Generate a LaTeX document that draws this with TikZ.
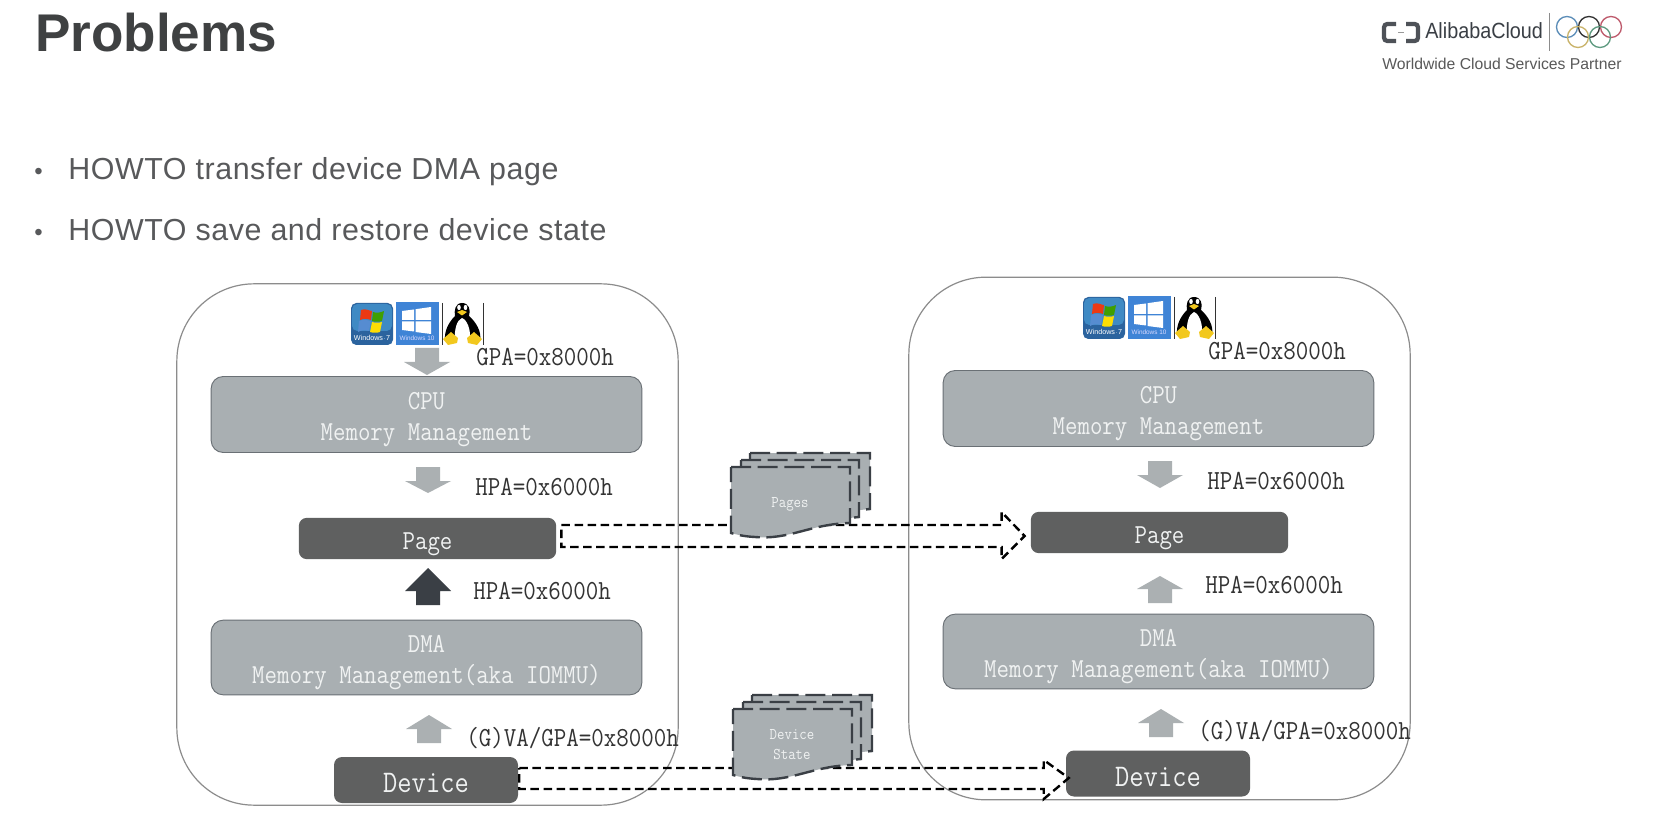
\documentclass[tikz,border=0pt]{standalone}
\usepackage{fontspec}
\setmainfont{Liberation Sans}
\setmonofont[FakeStretch=0.88]{Latin Modern Mono}
\newfontfamily\bulfont[LetterSpace=1.9]{Liberation Sans}
\usetikzlibrary{calc}
\definecolor{bxgray}{HTML}{A9AFB2}
\definecolor{bxedge}{HTML}{6A7075}
\definecolor{pgdark}{HTML}{5F6060}
\definecolor{bigedge}{HTML}{8C8C8C}
\definecolor{arrgray}{HTML}{ABB0B2}
\definecolor{arrdark}{HTML}{3A3F45}
\definecolor{lbl}{HTML}{333333}
\definecolor{wtxt}{HTML}{F0F2F2}
\definecolor{ttl}{HTML}{3F4142}
\definecolor{bul}{HTML}{58595B}
\definecolor{ringb}{HTML}{5B8DB8}
\definecolor{ringk}{HTML}{333333}
\definecolor{ringr}{HTML}{BE5A6C}
\definecolor{ringy}{HTML}{C9B36A}
\definecolor{ringg}{HTML}{5E9A80}
\definecolor{wsev}{HTML}{2B639E}
\definecolor{wsevtop}{HTML}{3F8AC4}
\definecolor{wten}{HTML}{3F84D6}
\definecolor{tuxy}{HTML}{F2C81E}
\tikzset{
  bigbox/.style={draw=bigedge,line width=0.9pt,rounded corners=58pt,fill=none},
  graybox/.style={draw=bxedge,line width=0.7pt,fill=bxgray,rounded corners=9pt,text=wtxt,align=center,inner sep=0pt,
    font=\ttfamily\fontsize{20.6}{23.5}\selectfont},
  darkbox/.style={draw=none,fill=pgdark,rounded corners=6pt,text=wtxt,align=center,inner sep=0pt,
    font=\ttfamily\fontsize{20.6}{22}\selectfont},
  devbox/.style={darkbox,font=\ttfamily\fontsize{23.6}{24}\selectfont},
  addr/.style={text=lbl,inner sep=0pt,anchor=west,font=\ttfamily\fontsize{20.7}{22}\selectfont},
  doc/.style={fill=bxgray,draw=arrdark,line width=1.8pt,dash pattern=on 15pt off 5pt},
  doclabel/.style={text=wtxt,align=center,inner sep=0pt,font=\ttfamily\fontsize{12.3}{14.5}\selectfont},
  dasharrow/.style={draw=black,line width=1.8pt,dash pattern=on 6.4pt off 3.4pt},
  bullet/.style={text=bul,inner sep=0pt,anchor=base west,font=\bulfont\fontsize{22.8}{26}\selectfont},
  bulletdot/.style={text=bul,inner sep=0pt,anchor=base west,font=\fontsize{18}{20}\selectfont},
}
\newcommand{\dn}[2][4pt]{\raisebox{-#1}[\height][\depth]{#2}}
\newcommand{\blockdown}[4][arrgray]{% x, top, bottom
  \fill[#1] (#2-12,#3) -- (#2+12,#3) -- (#2+12,#3+14) -- (#2+23,#3+14) -- (#2,#4) -- (#2-23,#3+14) -- (#2-12,#3+14) -- cycle;}
\newcommand{\blockup}[4][arrgray]{% x, top, bottom
  \fill[#1] (#2-12,#4) -- (#2+12,#4) -- (#2+12,#4-14) -- (#2+23,#4-14) -- (#2,#3) -- (#2-23,#4-14) -- (#2-12,#4-14) -- cycle;}
\newcommand{\docstack}[2]{% shift
  \begin{scope}[shift={(#1,#2)}]
  \path[doc] (750,453) -- (870,453) -- (870,509) -- (850,511) -- (750,511) -- cycle;
  \path[doc] (741,460) -- (859,460) -- (859,517) -- (830,520) -- (741,520) -- cycle;
  \path[doc] (731,467) -- (850,467) -- (850,523) .. controls (810,524) and (790,540) .. (755,537) .. controls (745,536.5) and (738,535) .. (731,533) -- cycle;
  \end{scope}}
\newcommand{\osicons}[2]{%
  \begin{scope}[shift={(#1,#2)}]
  % Windows 7
  \fill[wsev,rounded corners=4pt] (351,303) rectangle (393,345);
  \fill[wsevtop,rounded corners=4pt] (352,304) rectangle (392,331);
  \fill[red!65!orange!85!gray] (361,310) .. controls (366,308) and (369,311) .. (372,311) -- (371,320) .. controls (368,319) and (364,318) .. (360,320) -- cycle;
  \fill[green!50!black!75!yellow] (373,312) .. controls (376,313) and (380,313) .. (384,311) -- (382,321) .. controls (379,322) and (375,322) .. (372,321) -- cycle;
  \fill[cyan!50!blue!70!white] (359,321) .. controls (363,319) and (367,320) .. (371,321) -- (369,331) .. controls (365,330) and (361,330) .. (358,332) -- cycle;
  \fill[yellow!80!orange] (372,322) .. controls (375,323) and (379,323) .. (382,322) -- (380,332) .. controls (377,333) and (373,333) .. (370,332) -- cycle;
  \node[text=white,inner sep=0pt,font=\fontsize{5.4}{6}\selectfont] (win7#1) at (372,337.5) {Windows$\cdot$7};
  % Windows 10
  \fill[wten] (396,302) rectangle (439,345);
  \fill[white] (402,311) -- (414,309.5) -- (414,320) -- (402,320) -- cycle;
  \fill[white] (415.5,309.2) -- (431,307) -- (431,320) -- (415.5,320) -- cycle;
  \fill[white] (402,321.5) -- (414,321.5) -- (414,331.5) -- (402,330) -- cycle;
  \fill[white] (415.5,321.5) -- (431,321.5) -- (431,334) -- (415.5,332) -- cycle;
  \node[text=white!85!blue,inner sep=0pt,font=\fontsize{4.8}{6}\selectfont] (win10#1) at (417,338.5) {Windows 10};
  % Tux
  \draw[black!80,line width=0.6pt] (442,303) -- (442,345);
  \draw[black!80,line width=0.6pt] (483,303) -- (483,345);
  \fill[black] (462,303) .. controls (455,303) and (454,311) .. (455,316) .. controls (448,323) and (444,332) .. (445,341) -- (480,341) .. controls (482,332) and (476,322) .. (469,316) .. controls (471,310) and (469,303) .. (462,303) -- cycle;
  \fill[white] (462,318) .. controls (457,320) and (454,329) .. (455,341) -- (470,341) .. controls (471,329) and (467,320) .. (462,318) -- cycle;
  \fill[white] (459,307.5) ellipse [x radius=1.8,y radius=2.6];
  \fill[white] (465.5,307.5) ellipse [x radius=1.8,y radius=2.6];
  \fill[tuxy] (457,312) -- (462,310) -- (467,312) -- (462,315.5) -- cycle;
  \fill[tuxy] (443,339) -- (451,332) -- (458,338) -- (457,343) -- (448,345) -- cycle;
  \fill[tuxy] (482,339) -- (474,332) -- (467,338) -- (468,343) -- (477,345) -- cycle;
  \end{scope}}
\begin{document}
\begin{tikzpicture}[x=0.75pt,y=-0.75pt]
\useasboundingbox (0,0) rectangle (1672,834);
\fill[white] (0,0) rectangle (1672,834);

% Title and bullets
\node[text=ttl,inner sep=0pt,anchor=base west,font=\bfseries\fontsize{39.8}{44}\selectfont] (title) at (35,52) {Problems};
\node[bulletdot] (b1) at (34,179.5) {•};
\node[bullet] (t1) at (68,180) {HOWTO transfer device DMA page};
\node[bulletdot] (b2) at (34,240.5) {•};
\node[bullet] (t2) at (68,241) {HOWTO save and restore device state};

% Logo
\begin{scope}
\draw[line width=3.2pt,draw=arrdark!90,line cap=butt,rounded corners=2.5pt] (1396,24) -- (1384,24) -- (1384,41) -- (1396,41);
\draw[line width=3.2pt,draw=arrdark!90,line cap=butt,rounded corners=2.5pt] (1406,24) -- (1418,24) -- (1418,41) -- (1406,41);
\draw[line width=0.8pt,draw=black!40] (1398,32.5) -- (1404,32.5);
\node[text=arrdark,inner sep=0pt,anchor=base west,xscale=0.9,font=\fontsize{16.5}{20}\selectfont] (logoname) at (1425,39) {AlibabaCloud};
\draw[line width=0.7pt,draw=black!45] (1549,13) -- (1549,51);
\foreach \cx/\cy/\cc in {1567/27/ringb,1589/27/ringk,1611/27/ringr,1578/37/ringy,1600/37/ringg}
  \draw[\cc,line width=1pt] (\cx,\cy) circle [radius=10.5];
\node[text=black!65,inner sep=0pt,anchor=base west,font=\fontsize{11.8}{14}\selectfont] (logosub) at (1382,69.5) {Worldwide Cloud Services Partner};
\end{scope}

% Big boxes
\node[bigbox,minimum width=376pt,minimum height=391pt] (hostL) at (427.5,544.5) {};
\node[bigbox,minimum width=376pt,minimum height=392pt] (hostR) at (1159.5,538.5) {};

% Left column
\osicons{0}{0}
\node[graybox,minimum width=323pt,minimum height=57pt] (cpuL) at (426.5,414.5) {\dn{CPU}\\\dn{Memory Management}};
\node[darkbox,minimum width=193pt,minimum height=31pt] (pageL) at (427.5,538.5) {\dn{Page}};
\node[graybox,minimum width=323pt,minimum height=56pt] (dmaL) at (426.5,657.5) {\dn{DMA}\\\dn{Memory Management(aka IOMMU)}};
\node[devbox,minimum width=138pt,minimum height=34.5pt] (devL) at (426,780) {\dn[2.5pt]{Device}};

% Right column
\osicons{732}{-6}
\node[graybox,minimum width=323pt,minimum height=57pt] (cpuR) at (1158.5,408.5) {\dn{CPU}\\\dn{Memory Management}};
\node[darkbox,minimum width=193pt,minimum height=31pt] (pageR) at (1159.5,532.5) {\dn{Page}};
\node[graybox,minimum width=323pt,minimum height=56pt] (dmaR) at (1158.5,651.5) {\dn{DMA}\\\dn{Memory Management(aka IOMMU)}};
\node[devbox,minimum width=138pt,minimum height=34.5pt] (devR) at (1158,773.5) {\dn[2.5pt]{Device}};

% Block arrows
\blockdown{427}{348}{375}
\blockdown{428}{467}{493}
\blockup[arrdark]{428}{568}{605}
\blockup{429}{715}{743}
\blockdown{1160}{461}{488}
\blockup{1160}{576}{603}
\blockup{1161}{709}{737}

% Address labels
\node[addr] (l1) at (476,357) {GPA=0x8000h};
\node[addr] (l2) at (475,487) {HPA=0x6000h};
\node[addr] (l3) at (473,591) {HPA=0x6000h};
\node[addr] (l4) at (466,738) {(G)VA/GPA=0x8000h};
\node[addr] (r1) at (1208,351) {GPA=0x8000h};
\node[addr] (r2) at (1207,481) {HPA=0x6000h};
\node[addr] (r3) at (1205,585) {HPA=0x6000h};
\node[addr] (r4) at (1198,731) {(G)VA/GPA=0x8000h};

% Dashed transfer arrows
\path[dasharrow] ($(pageL.east)+(5,-13.5)$) -- ($(pageR.west)+(-29,-7.5)$) -- ($(pageR.west)+(-29,-20.5)$) -- ($(pageR.west)+(-6,3.5)$) -- ($(pageR.west)+(-29,26.5)$) -- ($(pageR.west)+(-29,14.5)$) -- ($(pageL.east)+(5,8.5)$) -- cycle;
\path[dasharrow] ($(devL.east)+(1,-12)$) -- ($(devR.west)+(-22,-5.5)$) -- ($(devR.west)+(-22,-13.5)$) -- ($(devR.west)+(3,4.5)$) -- ($(devR.west)+(-22,25.5)$) -- ($(devR.west)+(-22,15.5)$) -- ($(devL.east)+(1,9)$) -- cycle;

% Stacked documents
\docstack{0}{0}
\docstack{2}{242}
\node[doclabel] (pgs) at (790,504.5) {Pages};
\node[doclabel] (dst) at (792,744.5) {Device\\State};
\end{tikzpicture}
\end{document}
